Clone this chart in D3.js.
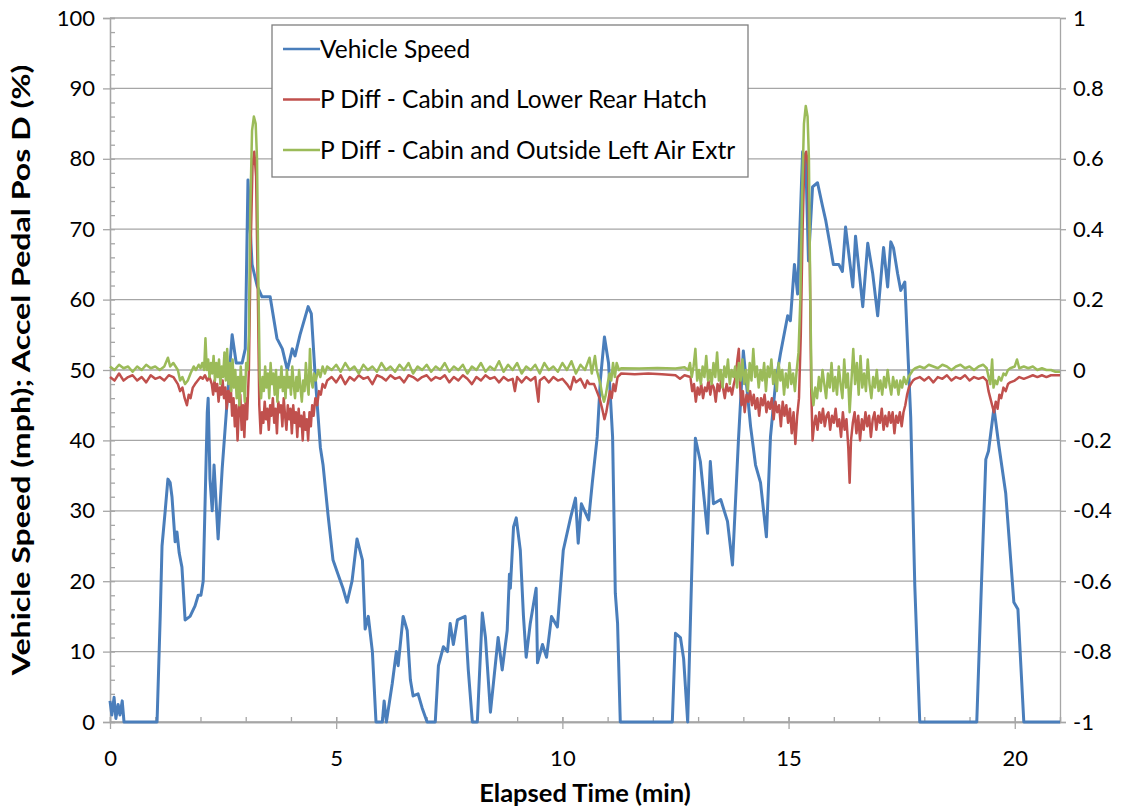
<!DOCTYPE html>
<html>
<head>
<meta charset="utf-8">
<script src="https://cdn.jsdelivr.net/npm/d3@7"></script>
<style>
    body { margin: 0; background: #ffffff; }
    svg text { font-family: Lato, "Open Sans", sans-serif; fill: #000; }
</style>
</head>
<body>
<div id="viz"></div>
<script>
    // Chart data
    // [elapsed time (min), value]
    var speedData = [
        [0.00,3],[0.04,1],[0.09,3.5],[0.13,0.5],[0.18,2.5],[0.22,1],[0.27,3],[0.31,0],[1.04,0],[1.11,15],[1.15,25],[1.22,30],
        [1.28,34.5],[1.33,34],[1.37,32],[1.44,25.6],[1.48,27],[1.53,24],[1.59,22],[1.66,14.5],[1.77,15],[1.88,16.5],[1.95,18],
        [2.01,18],[2.06,20],[2.15,44],[2.17,46],[2.21,34.5],[2.26,30],[2.30,36.5],[2.39,26],[2.48,36],[2.59,45.6],[2.70,55],
        [2.79,51],[2.92,51],[2.99,53],[3.05,77],[3.10,70],[3.14,65],[3.25,62],[3.36,60.4],[3.54,60.4],[3.69,54.5],[3.81,53],
        [3.92,50],[4.03,53],[4.09,52],[4.20,55],[4.38,59],[4.45,58],[4.54,48.7],[4.65,39],[4.71,36.5],[4.82,29.4],[4.93,23],
        [5.04,21],[5.15,19],[5.24,17],[5.35,20],[5.46,26],[5.58,23],[5.64,13.2],[5.71,15],[5.80,10],[5.88,0],[6.02,0],[6.06,3],
        [6.11,0],[6.24,5.5],[6.33,10],[6.37,8],[6.48,15],[6.57,13],[6.64,6],[6.70,3.7],[6.81,4],[6.90,2],[7.01,0],[7.19,0],
        [7.26,8],[7.37,10.7],[7.46,10],[7.52,14],[7.59,11],[7.68,14.5],[7.85,15],[7.92,7.4],[8.01,0],[8.12,0],[8.23,15.5],
        [8.30,12],[8.41,1.4],[8.58,12],[8.67,7.4],[8.78,13],[8.83,21],[8.85,19],[8.92,27.7],[8.98,29],[9.07,24.4],[9.14,15],
        [9.20,9.2],[9.29,14],[9.42,19],[9.45,8.4],[9.56,11],[9.65,9.2],[9.76,15],[9.89,13.5],[10.02,24.4],[10.18,29],[10.29,31.8],
        [10.35,25.4],[10.42,31],[10.58,28.7],[10.66,33.9],[10.77,40.5],[10.84,48.6],[10.93,54.7],[11.02,51],[11.11,40.5],
        [11.17,18.3],[11.22,14],[11.28,0],[12.43,0],[12.50,12.6],[12.61,12],[12.68,9],[12.77,0],[12.94,40.3],[13.05,37],
        [13.21,26.8],[13.27,37],[13.34,31],[13.50,31.6],[13.65,28.5],[13.76,22.3],[13.89,39.8],[14.00,52.7],[14.16,42],
        [14.27,36.5],[14.38,34],[14.51,26.3],[14.60,40.5],[14.71,48],[14.82,52.3],[14.98,57.7],[15.04,57],[15.13,65],[15.20,60.8],
        [15.31,81],[15.38,80],[15.44,65.5],[15.53,76],[15.64,76.6],[15.75,73.3],[15.82,71.3],[15.93,67.3],[15.99,65],[16.11,65],
        [16.19,64],[16.26,70.3],[16.42,61.8],[16.48,69],[16.64,59],[16.75,68],[16.86,63.7],[16.97,57.7],[17.10,67.4],[17.19,61.8],
        [17.26,68.2],[17.32,67.3],[17.41,63.7],[17.48,61.3],[17.57,62.5],[17.61,56.5],[17.70,43.3],[17.79,19.4],[17.90,0],
        [19.16,0],[19.25,17],[19.36,37.3],[19.42,38.5],[19.54,44.6],[19.65,39.2],[19.80,32.5],[19.98,17],[20.07,16],[20.20,0],[21.00,0]
    ];

    var rearHatchData = [
        [0,-0.02],[0.1,-0.03],[0.2,-0.01],[0.3,-0.03],[0.4,-0.02],[0.5,-0.015],[0.6,-0.03],[0.7,-0.02],[0.8,-0.035],[0.9,-0.015],
        [1.0,-0.025],[1.1,-0.02],[1.2,-0.03],[1.3,-0.015],[1.4,-0.02],[1.5,-0.04],[1.55,-0.06],[1.6,-0.05],[1.65,-0.08],[1.7,-0.1],
        [1.74,-0.07],[1.78,-0.08],[1.83,-0.05],[1.88,-0.04],[1.94,-0.03],[2.0,-0.02],[2.05,-0.025],[2.1,-0.015],[2.15,-0.03],
        [2.2,-0.02],[2.25,-0.04],[2.28,-0.07],[2.31,-0.03],[2.34,-0.06],[2.37,-0.04],[2.4,-0.09],[2.43,-0.05],[2.46,-0.07],
        [2.49,-0.03],[2.52,-0.08],[2.55,-0.05],[2.58,-0.11],[2.61,-0.06],[2.64,-0.09],[2.67,-0.05],[2.7,-0.13],[2.73,-0.08],
        [2.76,-0.16],[2.79,-0.1],[2.82,-0.2],[2.85,-0.11],[2.88,-0.07],[2.91,-0.17],[2.94,-0.1],[2.97,-0.19],[3.0,-0.08],[3.03,-0.14],
        [3.07,0.0],[3.11,0.35],[3.15,0.58],[3.19,0.62],[3.23,0.55],[3.27,0.2],[3.3,-0.1],
        [3.33,-0.18],[3.36,-0.12],[3.39,-0.15],[3.42,-0.09],[3.45,-0.14],[3.48,-0.11],[3.51,-0.17],[3.54,-0.1],[3.57,-0.13],
        [3.6,-0.08],[3.63,-0.15],[3.66,-0.11],[3.69,-0.18],[3.72,-0.09],[3.75,-0.12],[3.78,-0.1],[3.81,-0.16],[3.84,-0.08],
        [3.87,-0.13],[3.9,-0.17],[3.93,-0.1],[3.96,-0.14],[3.99,-0.11],[4.02,-0.18],[4.05,-0.1],[4.08,-0.15],[4.11,-0.12],
        [4.14,-0.19],[4.17,-0.11],[4.2,-0.16],[4.23,-0.13],[4.26,-0.2],[4.29,-0.12],[4.32,-0.17],[4.35,-0.14],[4.38,-0.2],
        [4.41,-0.12],[4.44,-0.16],[4.47,-0.1],[4.5,-0.13],[4.54,-0.08],[4.58,-0.1],[4.62,-0.06],[4.66,-0.07],[4.7,-0.04],
        [4.75,-0.05],[4.8,-0.03],
        [4.9,-0.02],[5.0,-0.035],[5.1,-0.015],[5.2,-0.04],[5.3,-0.02],[5.4,-0.03],[5.5,-0.015],[5.6,-0.025],[5.7,-0.02],[5.8,-0.04],
        [5.9,-0.015],[6.0,-0.02],[6.1,-0.03],[6.2,-0.015],[6.3,-0.025],[6.4,-0.02],[6.5,-0.035],[6.6,-0.015],[6.7,-0.02],[6.8,-0.03],
        [6.9,-0.02],[7.0,-0.015],[7.1,-0.03],[7.2,-0.02],[7.3,-0.025],[7.4,-0.015],[7.5,-0.035],[7.6,-0.02],[7.7,-0.03],[7.8,-0.015],
        [7.9,-0.025],[8.0,-0.04],[8.1,-0.02],[8.2,-0.03],[8.3,-0.015],[8.4,-0.025],[8.5,-0.02],[8.6,-0.035],[8.7,-0.02],[8.8,-0.03],
        [8.9,-0.025],[8.95,-0.06],[9.0,-0.02],[9.1,-0.035],[9.2,-0.02],[9.3,-0.03],[9.4,-0.02],[9.47,-0.09],[9.5,-0.03],[9.6,-0.02],
        [9.7,-0.035],[9.8,-0.02],[9.9,-0.03],[10.0,-0.025],[10.1,-0.04],[10.18,-0.055],[10.25,-0.02],[10.3,-0.035],[10.4,-0.025],
        [10.5,-0.05],[10.55,-0.03],[10.6,-0.04],
        [10.7,-0.04],[10.76,-0.06],[10.82,-0.08],[10.88,-0.11],[10.93,-0.14],[10.97,-0.12],[11.01,-0.09],[11.05,-0.06],
        [11.09,-0.08],[11.13,-0.04],[11.17,-0.06],[11.22,-0.02],
        [11.3,-0.01],[11.6,-0.012],[11.9,-0.01],[12.2,-0.012],[12.5,-0.015],[12.6,-0.025],[12.7,-0.015],
        [12.83,-0.02],[12.87,-0.06],[12.91,-0.04],[12.95,-0.09],[12.99,-0.05],[13.03,-0.07],[13.07,-0.04],[13.11,-0.08],
        [13.15,-0.05],[13.19,-0.06],[13.23,-0.03],[13.27,-0.07],[13.31,-0.04],[13.35,-0.05],[13.39,-0.09],[13.43,-0.04],
        [13.47,-0.06],[13.51,-0.03],[13.55,-0.05],[13.59,-0.08],[13.63,-0.04],[13.67,-0.06],[13.71,-0.05],[13.75,-0.07],
        [13.79,-0.04],[13.83,-0.02],[13.87,0.03],[13.9,0.06],[13.93,-0.05],[13.96,-0.1],[13.99,-0.06],[14.03,-0.12],[14.07,-0.07],
        [14.11,-0.09],[14.15,-0.06],[14.19,-0.1],[14.23,-0.07],[14.27,-0.11],[14.31,-0.08],[14.35,-0.13],[14.39,-0.08],[14.43,-0.1],
        [14.47,-0.07],[14.51,-0.12],[14.55,-0.09],[14.59,-0.11],[14.63,-0.08],[14.67,-0.14],[14.71,-0.09],[14.75,-0.12],[14.79,-0.1],
        [14.83,-0.16],[14.87,-0.09],[14.91,-0.13],[14.95,-0.1],[14.99,-0.15],[15.03,-0.11],[15.07,-0.18],[15.11,-0.12],[15.15,-0.21],
        [15.19,-0.13],[15.23,-0.08],
        [15.27,0.1],[15.31,0.4],[15.35,0.6],[15.39,0.62],[15.43,0.58],[15.47,0.3],[15.5,-0.05],[15.53,-0.2],
        [15.56,-0.16],[15.6,-0.13],[15.64,-0.17],[15.68,-0.12],[15.72,-0.15],[15.76,-0.11],[15.8,-0.16],[15.84,-0.13],[15.88,-0.12],
        [15.92,-0.17],[15.96,-0.13],[16.0,-0.15],[16.04,-0.11],[16.08,-0.16],[16.12,-0.14],[16.16,-0.19],[16.2,-0.12],[16.24,-0.17],
        [16.28,-0.14],[16.32,-0.22],[16.35,-0.32],[16.38,-0.2],[16.42,-0.15],[16.46,-0.12],[16.5,-0.18],[16.54,-0.13],[16.58,-0.2],
        [16.62,-0.14],[16.66,-0.17],[16.7,-0.12],[16.74,-0.16],[16.78,-0.13],[16.82,-0.19],[16.86,-0.14],[16.9,-0.12],[16.94,-0.17],
        [16.98,-0.13],[17.02,-0.15],[17.06,-0.11],[17.1,-0.17],[17.14,-0.13],[17.18,-0.16],[17.22,-0.12],[17.26,-0.15],[17.3,-0.12],
        [17.34,-0.18],[17.38,-0.13],[17.42,-0.15],[17.46,-0.12],[17.5,-0.16],[17.54,-0.12],[17.58,-0.1],[17.62,-0.07],[17.66,-0.05],
        [17.7,-0.04],[17.75,-0.03],[17.8,-0.025],
        [17.9,-0.02],[18.0,-0.03],[18.1,-0.02],[18.2,-0.035],[18.3,-0.02],[18.4,-0.025],[18.5,-0.015],[18.6,-0.03],[18.7,-0.02],
        [18.8,-0.025],[18.9,-0.015],[19.0,-0.03],[19.1,-0.02],[19.2,-0.025],[19.3,-0.02],[19.38,-0.03],
        [19.42,-0.06],[19.46,-0.08],[19.5,-0.1],[19.54,-0.12],[19.58,-0.09],[19.62,-0.11],[19.66,-0.07],[19.7,-0.08],[19.75,-0.05],
        [19.8,-0.06],[19.85,-0.04],[19.9,-0.035],
        [20.0,-0.03],[20.1,-0.02],[20.2,-0.025],[20.3,-0.02],[20.4,-0.015],[20.5,-0.02],[20.6,-0.015],[20.7,-0.02],[20.8,-0.015],
        [20.9,-0.015],[21.0,-0.015]
    ];

    var leftAirData = [
        [0,0.01],[0.1,0.0],[0.2,0.015],[0.3,0.005],[0.4,0.01],[0.5,-0.005],[0.6,0.01],[0.7,0.0],[0.8,0.015],[0.9,0.005],[1.0,0.01],
        [1.1,0.0],[1.2,0.01],[1.28,0.035],[1.33,0.01],[1.4,0.02],[1.5,0.0],[1.55,-0.03],[1.6,-0.02],[1.66,-0.04],[1.72,-0.03],
        [1.78,-0.01],[1.85,0.01],[1.9,0.0],[1.96,0.015],[2.0,0.005],[2.04,0.02],[2.08,0.0],
        [2.11,0.09],[2.14,0.0],[2.17,0.03],[2.2,-0.02],[2.23,0.02],[2.26,-0.01],[2.29,0.04],[2.32,-0.03],[2.35,0.02],[2.38,-0.02],
        [2.41,0.03],[2.44,-0.04],[2.47,0.01],[2.5,-0.02],[2.53,0.05],[2.56,-0.03],[2.59,0.06],[2.62,-0.04],[2.65,0.02],[2.68,-0.06],
        [2.71,0.03],[2.74,-0.05],[2.77,0.0],[2.8,-0.08],[2.83,-0.02],[2.86,-0.1],[2.89,0.01],[2.92,-0.06],[2.95,-0.02],[2.98,-0.09],
        [3.01,0.02],[3.04,0.0],
        [3.07,0.1],[3.1,0.45],[3.14,0.68],[3.18,0.72],[3.22,0.7],[3.25,0.6],[3.28,0.25],[3.31,-0.02],
        [3.34,-0.08],[3.37,-0.02],[3.4,-0.06],[3.43,0.01],[3.46,-0.05],[3.49,-0.01],[3.52,-0.08],[3.55,0.02],[3.58,-0.04],
        [3.61,-0.01],[3.64,-0.07],[3.67,0.0],[3.7,-0.09],[3.73,-0.02],[3.76,-0.05],[3.79,0.01],[3.82,-0.06],[3.85,-0.02],
        [3.88,-0.08],[3.91,0.0],[3.94,-0.05],[3.97,-0.02],[4.0,-0.07],[4.03,0.01],[4.06,-0.04],[4.09,-0.08],[4.12,-0.02],
        [4.15,-0.06],[4.18,0.0],[4.21,-0.05],[4.24,-0.09],[4.27,-0.03],[4.3,-0.06],[4.33,0.02],[4.36,-0.04],[4.39,-0.07],
        [4.42,0.06],[4.45,-0.03],[4.48,-0.05],[4.51,-0.01],[4.55,-0.03],[4.6,0.0],[4.65,-0.02],[4.7,0.01],[4.75,-0.01],[4.8,0.01],
        [4.9,0.0],[5.0,0.015],[5.1,-0.005],[5.2,0.02],[5.3,0.0],[5.4,0.01],[5.5,-0.01],[5.6,0.015],[5.7,0.0],[5.8,0.01],[5.9,-0.005],
        [6.0,0.02],[6.1,0.0],[6.2,0.01],[6.3,-0.005],[6.4,0.015],[6.5,0.0],[6.6,0.02],[6.7,-0.01],[6.8,0.01],[6.9,0.0],[7.0,0.015],
        [7.1,-0.005],[7.2,0.01],[7.3,0.0],[7.4,0.02],[7.5,-0.005],[7.6,0.01],[7.7,0.0],[7.8,0.015],[7.9,-0.01],[8.0,0.01],[8.1,0.0],
        [8.2,0.02],[8.3,-0.005],[8.4,0.01],[8.5,0.0],[8.6,0.025],[8.7,-0.005],[8.8,0.015],[8.9,0.0],[9.0,0.02],[9.1,-0.01],[9.2,0.01],
        [9.3,0.0],[9.4,0.015],[9.5,-0.01],[9.6,0.02],[9.7,0.0],[9.8,0.01],[9.9,-0.005],[10.0,0.02],[10.1,0.0],[10.2,0.025],
        [10.3,-0.01],[10.4,0.015],[10.5,0.0],[10.6,0.035],[10.65,-0.01],
        [10.72,0.04],[10.76,0.0],[10.8,-0.02],[10.84,-0.04],[10.88,-0.07],[10.92,-0.09],[10.96,-0.07],[11.0,-0.04],[11.04,-0.01],
        [11.08,-0.03],[11.12,0.02],[11.16,-0.02],[11.2,0.02],[11.25,0.0],
        [11.3,0.005],[11.7,0.004],[12.1,0.006],[12.5,0.004],[12.7,0.008],[12.78,0.0],
        [12.82,0.02],[12.86,-0.02],[12.9,0.01],[12.94,0.06],[12.98,-0.03],[13.02,0.0],[13.06,-0.04],[13.1,0.01],[13.14,-0.02],
        [13.18,0.04],[13.22,-0.03],[13.26,0.0],[13.3,-0.04],[13.34,0.02],[13.38,-0.02],[13.42,0.05],[13.46,-0.03],[13.5,0.0],
        [13.54,-0.05],[13.58,0.01],[13.62,-0.02],[13.66,0.03],[13.7,-0.04],[13.74,0.0],[13.78,-0.02],[13.82,0.01],[13.86,-0.05],
        [13.9,0.02],[13.94,-0.03],[13.98,0.03],[14.02,-0.04],[14.06,0.0],[14.1,-0.06],[14.14,0.02],[14.18,-0.03],[14.22,0.06],
        [14.26,-0.02],[14.3,0.01],[14.34,-0.05],[14.38,0.0],[14.42,-0.03],[14.46,0.02],[14.5,-0.06],[14.54,0.01],[14.58,-0.02],
        [14.62,0.03],[14.66,-0.04],[14.7,0.0],[14.74,-0.06],[14.78,0.02],[14.82,-0.03],[14.86,0.0],[14.9,-0.07],[14.94,-0.01],
        [14.98,-0.05],[15.02,0.02],[15.06,-0.04],[15.1,-0.01],[15.14,-0.06],[15.18,0.0],[15.22,0.05],
        [15.26,0.2],[15.3,0.5],[15.34,0.7],[15.38,0.75],[15.42,0.72],[15.45,0.6],[15.48,0.2],[15.51,-0.05],
        [15.55,-0.1],[15.59,-0.05],[15.63,-0.08],[15.67,-0.02],[15.71,-0.06],[15.75,0.0],[15.79,-0.04],[15.83,-0.08],[15.87,-0.01],
        [15.91,-0.05],[15.95,0.02],[15.99,-0.06],[16.03,-0.02],[16.07,-0.07],[16.11,0.01],[16.15,-0.04],[16.19,-0.08],[16.23,0.03],
        [16.27,-0.05],[16.31,-0.01],[16.35,-0.12],[16.39,-0.03],[16.43,0.06],[16.47,-0.04],[16.51,0.02],[16.55,-0.07],[16.59,0.04],
        [16.63,-0.05],[16.67,-0.01],[16.71,-0.06],[16.75,0.03],[16.79,-0.04],[16.83,-0.08],[16.87,-0.02],[16.91,-0.05],[16.95,0.0],
        [16.99,-0.06],[17.03,-0.03],[17.07,-0.07],[17.11,-0.02],[17.15,-0.05],[17.19,0.0],[17.23,-0.04],[17.27,-0.07],[17.31,-0.02],
        [17.35,-0.05],[17.39,-0.03],[17.43,-0.07],[17.47,-0.03],[17.51,-0.05],[17.55,-0.02],[17.6,-0.04],[17.65,-0.02],[17.7,-0.01],
        [17.75,0.0],[17.8,0.005],
        [17.9,0.01],[18.0,0.005],[18.1,0.015],[18.2,0.01],[18.3,0.005],[18.4,0.015],[18.5,0.01],[18.6,0.0],[18.7,0.01],[18.8,0.015],
        [18.9,0.005],[19.0,0.01],[19.1,0.0],[19.2,0.01],[19.3,0.015],[19.38,0.005],
        [19.42,-0.02],[19.46,-0.04],[19.5,0.03],[19.53,-0.05],[19.57,-0.03],[19.61,-0.04],[19.65,-0.02],[19.7,-0.03],[19.75,-0.01],
        [19.8,-0.015],[19.85,0.0],[19.9,0.005],
        [20.0,0.01],[20.05,0.03],[20.1,0.005],[20.2,0.01],[20.3,0.005],[20.4,0.01],[20.5,0.0],[20.6,0.005],[20.7,0.0],[20.8,0.0],
        [20.9,-0.005],[21.0,-0.005]
    ];

    var xTicks = [0, 5, 10, 15, 20];
    var leftTicks = [0, 10, 20, 30, 40, 50, 60, 70, 80, 90, 100];
    var rightTicks = [-1, -0.8, -0.6, -0.4, -0.2, 0, 0.2, 0.4, 0.6, 0.8, 1];
    var seriesNames = ["Vehicle Speed", "P Diff - Cabin and Lower Rear Hatch", "P Diff - Cabin and Outside Left Air Extr"];
    var seriesColors = ["#4a7ebb", "#c0504d", "#9bbb59"];

    const margin = {top: 18, right: 72, bottom: 87, left: 110},
        width = 1132 - margin.left - margin.right,
        height = 809 - margin.top - margin.bottom;

    var svg = d3.select("#viz").append("svg")
        .attr("width", 1132)
        .attr("height", 809)
        .append("g")
        .attr("transform", "translate(" + margin.left + "," + margin.top + ")");

    // scales
    var x = d3.scaleLinear().domain([0, 21]).range([0, width]);
    var yLeft = d3.scaleLinear().domain([0, 100]).range([height, 0]);
    var yRight = d3.scaleLinear().domain([-1, 1]).range([height, 0]);

    var gridColor = "#a6a6a6";

    // horizontal gridlines
    svg.append("g")
        .selectAll("line")
        .data(leftTicks)
        .enter()
        .append("line")
        .attr("x1", 0)
        .attr("x2", width)
        .attr("y1", function(d) { return yLeft(d); })
        .attr("y2", function(d) { return yLeft(d); })
        .attr("stroke", gridColor)
        .attr("stroke-width", 1.3);

    // left axis with minor ticks inside
    svg.append("g")
        .call(d3.axisLeft(yLeft).tickValues(leftTicks).tickSize(7).tickPadding(8));
    svg.append("g")
        .call(d3.axisRight(yLeft).tickValues(d3.range(0, 101, 2)).tickSize(5).tickFormat(""));

    // right axis, plain hyphen for negatives like the original
    svg.append("g")
        .attr("transform", "translate(" + width + ",0)")
        .call(d3.axisRight(yRight).tickValues(rightTicks).tickSize(6).tickPadding(7)
            .tickFormat(function(d) { return String(+d.toFixed(1)); }));

    // bottom axis, major ticks cross the line, minor ticks every minute
    var bottomAxis = svg.append("g")
        .attr("transform", "translate(0," + height + ")")
        .call(d3.axisBottom(x).tickValues(xTicks).tickSizeInner(7).tickSizeOuter(0).tickPadding(21));
    bottomAxis.selectAll(".tick line").attr("y1", -5);
    svg.append("g")
        .attr("transform", "translate(0," + height + ")")
        .call(d3.axisTop(x).tickValues(d3.range(0, 22, 1)).tickSize(5).tickFormat(""));

    svg.selectAll(".domain").attr("stroke", gridColor).attr("stroke-width", 1.3);
    svg.selectAll(".tick line").attr("stroke", gridColor).attr("stroke-width", 1.3);
    svg.selectAll(".tick text").attr("font-size", "22px").attr("fill", "#000");

    // lines
    var speedLine = d3.line()
        .x(function(d) { return x(d[0]); })
        .y(function(d) { return yLeft(d[1]); });
    var pressureLine = d3.line()
        .x(function(d) { return x(d[0]); })
        .y(function(d) { return yRight(d[1]); });

    svg.append("path")
        .datum(speedData)
        .attr("fill", "none")
        .attr("stroke", seriesColors[0])
        .attr("stroke-width", 3)
        .attr("stroke-linejoin", "round")
        .attr("d", speedLine);

    svg.append("path")
        .datum(rearHatchData)
        .attr("fill", "none")
        .attr("stroke", seriesColors[1])
        .attr("stroke-width", 2.5)
        .attr("stroke-linejoin", "round")
        .attr("d", pressureLine);

    svg.append("path")
        .datum(leftAirData)
        .attr("fill", "none")
        .attr("stroke", seriesColors[2])
        .attr("stroke-width", 2.5)
        .attr("stroke-linejoin", "round")
        .attr("d", pressureLine);

    // axis titles
    svg.append("text")
        .attr("text-anchor", "middle")
        .attr("x", width / 2)
        .attr("y", height + 80)
        .attr("font-size", "25.5px")
        .attr("font-weight", "bold")
        .text("Elapsed Time (min)");

    // the original y title is stretched along its length, so scale it the same way
    svg.append("text")
        .attr("text-anchor", "middle")
        .attr("transform", "translate(" + (-80) + "," + (height / 2) + ") rotate(-90) scale(1.26,1)")
        .attr("font-size", "25.5px")
        .attr("font-weight", "bold")
        .text("Vehicle Speed (mph); Accel Pedal Pos D (%)");

    // legend box
    var legend = svg.append("g")
        .attr("transform", "translate(" + (272 - margin.left) + "," + (25 - margin.top) + ")");
    legend.append("rect")
        .attr("width", 476)
        .attr("height", 152)
        .attr("fill", "#fff")
        .attr("stroke", "#7f7f7f")
        .attr("stroke-width", 1.3);

    var entries = legend.selectAll(".entry")
        .data(seriesNames)
        .enter()
        .append("g")
        .attr("transform", function(d, i) { return "translate(0," + (24 + i * 50.5) + ")"; });
    entries.append("line")
        .attr("x1", 11)
        .attr("x2", 48)
        .attr("stroke", function(d, i) { return seriesColors[i]; })
        .attr("stroke-width", 2.5);
    entries.append("text")
        .attr("x", 48)
        .attr("dy", "0.35em")
        .attr("font-size", "24.5px")
        .text(function(d) { return d; });
</script>
</body>
</html>
